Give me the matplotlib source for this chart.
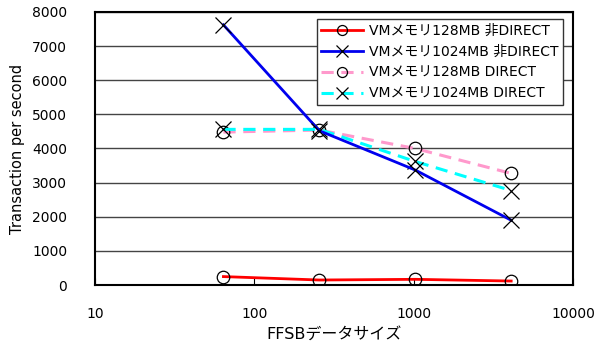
import matplotlib
matplotlib.use("Agg")
from matplotlib import pyplot as plt
from matplotlib import ticker

plt.rcParams['font.family'] = ['DejaVu Sans', 'Noto Sans CJK JP']

data_size = [64, 256, 1024, 4096]
mem128_nodirect = [250, 150, 170, 120]
mem1024_nodirect = [7620, 4520, 3370, 1900]
mem128_direct = [4480, 4540, 4000, 3270]
mem1024_direct = [4560, 4560, 3620, 2770]
labels = ["VMメモリ128MB 非DIRECT", "VMメモリ1024MB 非DIRECT",
          "VMメモリ128MB DIRECT", "VMメモリ1024MB DIRECT"]

fig = plt.figure(figsize=(6.05, 3.49), dpi=100)
ax = fig.add_axes([0.157, 0.183, 0.79, 0.783])

ax.plot(data_size, mem128_nodirect, color="red", lw=2, marker="o",
        ms=9, mfc="none", mec="black", mew=0.9, label=labels[0], zorder=4)
ax.plot(data_size, mem1024_nodirect, color="#0000ee", lw=2, marker="x",
        ms=11, mec="black", mew=0.9, label=labels[1], zorder=3)
ax.plot(data_size, mem128_direct, color="#ff99cc", lw=2.2, ls=(0, (4, 2.5)),
        marker="o", ms=9, mfc="none", mec="black", mew=0.9, label=labels[2], zorder=2)
ax.plot(data_size, mem1024_direct, color="cyan", lw=2.2, ls=(0, (4, 2.5)),
        marker="x", ms=11, mec="black", mew=0.9, label=labels[3], zorder=2)

ax.set_xscale("log")
ax.set_xlim(10, 10000)
ax.set_ylim(0, 8000)
ax.xaxis.set_major_locator(ticker.LogLocator(base=10))
ax.xaxis.set_minor_locator(ticker.NullLocator())
ax.xaxis.set_major_formatter(ticker.FuncFormatter(lambda v, p: f"{int(round(v))}"))
ax.yaxis.set_major_locator(ticker.MultipleLocator(1000))
ax.yaxis.grid(True, color="#444444", lw=1)
ax.set_axisbelow(True)
ax.tick_params(axis="x", direction="in", length=5, pad=16, labelsize=10)
ax.tick_params(axis="y", length=0, pad=20, labelsize=10)
for s in ax.spines.values():
    s.set_linewidth(1.5)
    s.set_color("black")

ax.set_xlabel("FFSBデータサイズ", fontsize=11.5, labelpad=4)
ax.set_ylabel("Transaction per second", fontsize=10.5, labelpad=5)

leg = ax.legend(loc="upper right", bbox_to_anchor=(0.985, 0.985), fontsize=10,
                fancybox=False, edgecolor="#333333", framealpha=1,
                handlelength=3.0, borderpad=0.35, labelspacing=0.5,
                handletextpad=0.4, borderaxespad=0.2, markerscale=0.8)
leg.get_frame().set_linewidth(1)

plt.savefig("out.png", dpi=100)
